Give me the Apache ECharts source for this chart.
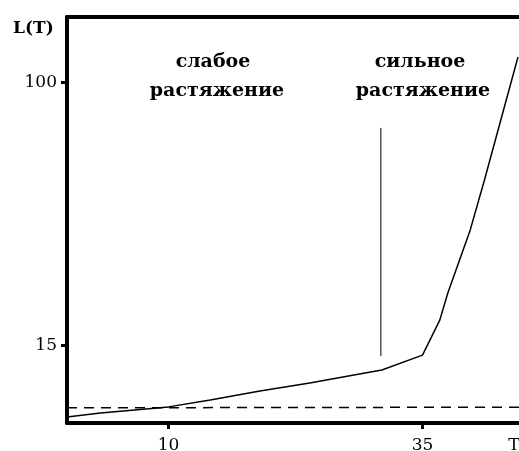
<!DOCTYPE html>
<html>
<head>
<meta charset="utf-8">
<script src="https://cdn.jsdelivr.net/npm/echarts@6/dist/echarts.min.js"></script>
<style>
  html, body { margin: 0; padding: 0; background: #fff; }
  #chart { width: 519px; height: 451px; }
</style>
</head>
<body>
<div id="chart"></div>
<script>
"use strict"

// данные кривой L(T)
const tValues = [0, 3.3, 10, 14.1, 19, 23.9, 28.8, 31, 35, 36.7, 37.5, 39.7, 41.1, 44.4];
const lValues = [-8.1, -6.8, -4.8, -2.6, 0.3, 2.9, 5.8, 7.1, 11.9, 23.2, 32.0, 52.3, 68.4, 108.1];
// пунктирная линия
const dashT = [0, 44.5];
const dashL = [-5.1, -4.9];
// вертикальная граница между областями
const borderT = [30.9, 30.9];
const borderL = [11.6, 85.2];
// подписи осей
const xTicks = [10, 35];
const xLabelValues = [10, 35, 44];
const yTicks = [15, 100];

function pairs(xs, ys) {
    return xs.map((x, i) => [x, ys[i]]);
}

const serif = '"DejaVu Serif", "Liberation Serif", serif';
const axisLine = { show: true, onZero: false, lineStyle: { color: '#000', width: 4 } };

var myChart = echarts.init(document.getElementById('chart'));
var option = {
    animation: false,
    grid: { left: 67, right: 0, top: 17, bottom: 28, outerBoundsMode: 'none' },
    xAxis: [{
        type: 'value',
        min: 0,
        max: 44.5,
        axisLine: axisLine,
        splitLine: { show: false },
        axisTick: { show: true, customValues: xTicks, length: 6, lineStyle: { color: '#000', width: 3 } },
        axisLabel: {
            customValues: xLabelValues,
            formatter: v => v === 44 ? 'T' : String(v),
            color: '#000', fontFamily: serif, fontSize: 17, margin: 14
        }
    }, {
        type: 'value',
        position: 'top',
        min: 0,
        max: 44.5,
        axisLine: axisLine,
        axisTick: { show: false },
        axisLabel: { show: false },
        splitLine: { show: false }
    }],
    yAxis: {
        type: 'value',
        min: -10,
        max: 121,
        axisLine: axisLine,
        splitLine: { show: false },
        axisTick: { show: true, customValues: yTicks, length: 6, lineStyle: { color: '#000', width: 3 } },
        axisLabel: {
            customValues: yTicks,
            color: '#000', fontFamily: serif, fontSize: 17, margin: 10
        }
    },
    series: [{
        type: 'line',
        data: pairs(tValues, lValues),
        symbol: 'none',
        lineStyle: { color: '#000', width: 1.5 }
    }, {
        type: 'line',
        data: pairs(dashT, dashL),
        symbol: 'none',
        lineStyle: { color: '#000', width: 1.5, type: [10, 7] }
    }, {
        type: 'line',
        data: pairs(borderT, borderL),
        symbol: 'none',
        lineStyle: { color: '#000', width: 1 }
    }],
    graphic: [
        { type: 'text', left: 13, top: 20, style: { text: 'L(T)', font: 'bold 17px ' + serif, fill: '#000' } },
        { type: 'text', x: 213, y: 62, style: { text: 'слабое', font: 'bold 19px ' + serif, fill: '#000', align: 'center', verticalAlign: 'middle' } },
        { type: 'text', x: 217, y: 91, style: { text: 'растяжение', font: 'bold 19px ' + serif, fill: '#000', align: 'center', verticalAlign: 'middle' } },
        { type: 'text', x: 420, y: 62, style: { text: 'сильное', font: 'bold 19px ' + serif, fill: '#000', align: 'center', verticalAlign: 'middle' } },
        { type: 'text', x: 423, y: 91, style: { text: 'растяжение', font: 'bold 19px ' + serif, fill: '#000', align: 'center', verticalAlign: 'middle' } }
    ]
};
myChart.setOption(option);
</script>
</body>
</html>
